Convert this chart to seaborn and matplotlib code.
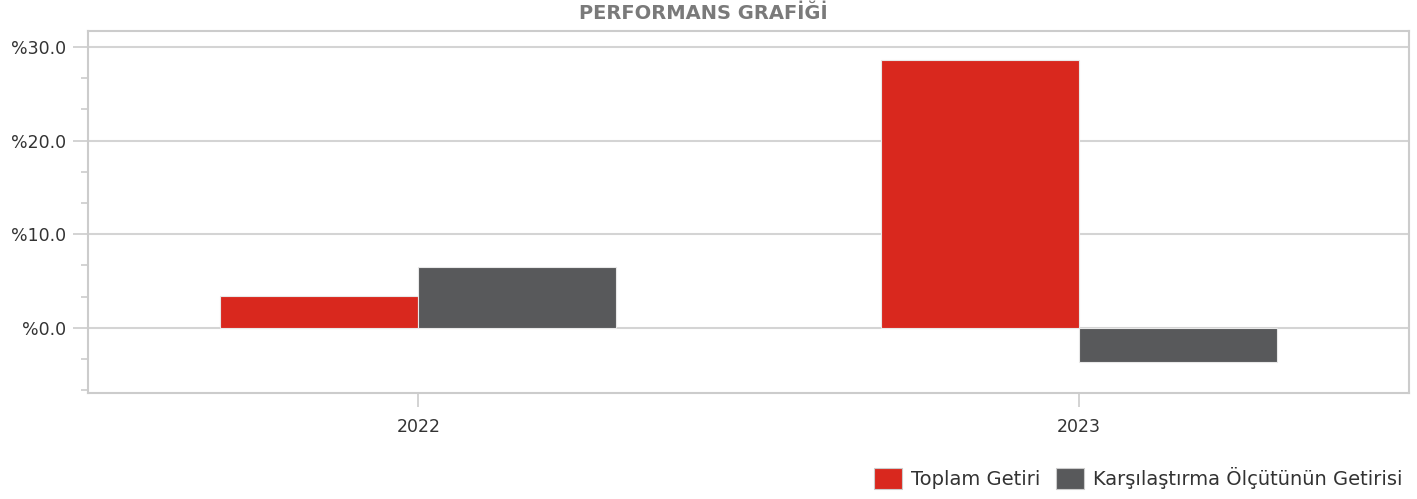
import matplotlib
matplotlib.use("Agg")
import matplotlib.pyplot as plt
import seaborn as sns
import pandas as pd
from matplotlib.ticker import MultipleLocator, FuncFormatter
from matplotlib.patches import Patch

years = ["2022", "2023"]
series_names = ["Toplam Getiri", "Karşılaştırma Ölçütünün Getirisi"]
toplam_getiri = [3.4, 28.6]
olcut_getirisi = [6.5, -3.6]
colors = ["#D9281E", "#58595B"]
title = "PERFORMANS GRAFİĞİ"

df = pd.DataFrame({
    "Yıl": years * 2,
    "Seri": [series_names[0]] * 2 + [series_names[1]] * 2,
    "Değer": toplam_getiri + olcut_getirisi,
})

sns.set_theme(style="white")
plt.rcParams["font.family"] = ["DejaVu Sans"]

fig = plt.figure(figsize=(14.17, 4.99), dpi=100)
ax = fig.add_axes([88 / 1417, 1 - 393 / 499, (1409 - 88) / 1417, (393 - 31) / 499])

sns.barplot(data=df, x="Yıl", y="Değer", hue="Seri", palette=colors,
            width=0.6, ax=ax, edgecolor="#e8e8e8", linewidth=0.8,
            saturation=1, legend=False)

ax.set_xlim(-0.5, 1.5)
ax.set_ylim(-6.95, 31.7)
ax.yaxis.set_major_locator(MultipleLocator(10))
ax.yaxis.set_minor_locator(MultipleLocator(10 / 3))
ax.yaxis.set_major_formatter(FuncFormatter(lambda v, p: f"%{v:.1f}"))
ax.grid(axis="y", which="major", color="#d4d4d4", linewidth=1.5)
ax.set_axisbelow(True)
ax.set_xlabel("")
ax.set_ylabel("")

for s in ax.spines.values():
    s.set_color("#cccccc")
    s.set_linewidth(1.5)

ax.tick_params(axis="y", which="major", length=11, width=1.2, color="#cccccc",
               labelsize=12.5, labelcolor="#333333", left=True, pad=5)
ax.tick_params(axis="y", which="minor", length=5, width=1.2, color="#cccccc", left=True)
ax.tick_params(axis="x", which="major", length=10, width=1.2, color="#cccccc",
               labelsize=12.5, labelcolor="#333333", bottom=True, pad=8)

fig.text(703 / 1417, 1 - 19 / 499, title, ha="center", va="baseline",
         fontsize=14, fontweight="bold", color="#7a7a7a")

handles = [Patch(facecolor=c, edgecolor="#cccccc", linewidth=0.8) for c in colors]
fig.legend(handles, series_names, loc="center right",
           bbox_to_anchor=(1410 / 1417, 1 - 478 / 499), ncol=2, frameon=False,
           fontsize=14, handlelength=1.45, handleheight=1.25, handletextpad=0.45,
           columnspacing=0.8, labelcolor="#333333", borderaxespad=0)

fig.savefig("out.png", dpi=100)
